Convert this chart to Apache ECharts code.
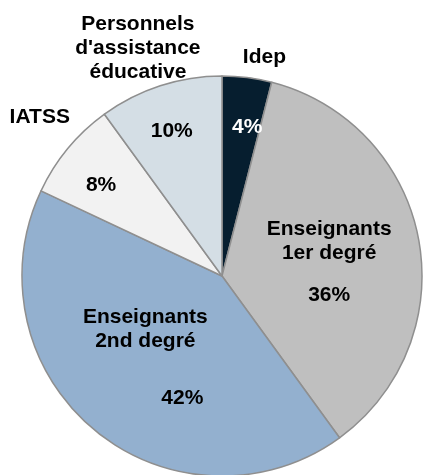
<!DOCTYPE html>
<html>
<head>
<meta charset="utf-8">
<script src="https://cdn.jsdelivr.net/npm/echarts@6/dist/echarts.min.js"></script>
<style>
  html, body { margin: 0; padding: 0; background: #fff; }
  #chart { width: 424px; height: 475px; }
</style>
</head>
<body>
<div id="chart"></div>
<script>
// données (part des effectifs, en %)
const categories = ['Idep', 'Enseignants\n1er degré', 'Enseignants\n2nd degré', 'IATSS', "Personnels\nd'assistance\néducative"];
const shares = [4, 36, 42, 8, 10];
const colors = ['#061e2f', '#bfbfbf', '#93b0cf', '#f2f2f2', '#d4dee5'];
const insideNames = [1, 2];      // slices labelled inside with their name
const percentColors = ['#fff', '#000', '#000', '#000', '#000'];

const FONT = 'Liberation Sans, Arial, sans-serif';
const CX = 222, CY = 276, R = 200;

// small label nudges [dx, dy]
const nameNudge = { 0: [12, 22], 3: [5, -4], 4: [-9, 3] };
const pctNudge = { 0: [6, 3], 4: [-3, 1], 3: [-3, 7] };
const bigNudge = { 1: [6, 15], 2: [-11, 19] };

const chart = echarts.init(document.getElementById('chart'), null, { renderer: 'canvas' });

const baseData = categories.map((c, i) => ({ name: c, value: shares[i] }));

function nudger(map) {
  return function (p) {
    const n = map[p.dataIndex];
    return n ? { dx: n[0], dy: n[1] } : {};
  };
}

const option = {
  animation: false,
  backgroundColor: '#fff',
  series: [
    {
      // the pie itself, with inside labels for the two big slices
      type: 'pie',
      center: [CX, CY],
      radius: [0, R],
      startAngle: 90,
      clockwise: true,
      avoidLabelOverlap: false,
      silent: true,
      itemStyle: { borderColor: '#8f8f8f', borderWidth: 1.5 },
      color: colors,
      labelLine: { show: false },
      label: {
        position: 'inside',
        fontFamily: FONT,
        formatter: function (p) {
          if (insideNames.indexOf(p.dataIndex) < 0) return '';
          const lines = p.name.split('\n').map(s => '{n|' + s + '}');
          const pk = p.dataIndex === 2 ? 'p2' : 'p1';
          return lines.join('\n') + '\n{' + pk + '|' + p.value + '%}';
        },
        rich: {
          n: { fontFamily: FONT, fontSize: 21, fontWeight: 'bold', color: '#000', lineHeight: 24 },
          p1: { fontFamily: FONT, fontSize: 21, fontWeight: 'bold', color: '#000', lineHeight: 60 },
          p2: { fontFamily: FONT, fontSize: 21, fontWeight: 'bold', color: '#000', lineHeight: 90, padding: [0, 0, 0, 74] }
        }
      },
      labelLayout: nudger(bigNudge),
      data: baseData
    },
    {
      // transparent ring: percentages of the small slices
      type: 'pie',
      center: [CX, CY],
      radius: [R / 2, R],
      startAngle: 90,
      clockwise: true,
      avoidLabelOverlap: false,
      silent: true,
      itemStyle: { color: 'transparent', borderWidth: 0 },
      labelLine: { show: false },
      label: {
        position: 'inside',
        fontFamily: FONT,
        fontSize: 21,
        fontWeight: 'bold',
        formatter: function (p) {
          return insideNames.indexOf(p.dataIndex) < 0 ? p.value + '%' : '';
        },
        color: '#000'
      },
      labelLayout: nudger(pctNudge),
      data: baseData.map((d, i) => ({ name: d.name, value: d.value, label: { color: percentColors[i] } }))
    },
    {
      // transparent outer ring: names of the small slices
      type: 'pie',
      center: [CX, CY],
      radius: [215, 265],
      startAngle: 90,
      clockwise: true,
      avoidLabelOverlap: false,
      silent: true,
      itemStyle: { color: 'transparent', borderWidth: 0 },
      labelLine: { show: false },
      label: {
        position: 'inside',
        fontFamily: FONT,
        fontSize: 21,
        fontWeight: 'bold',
        lineHeight: 24,
        color: '#000',
        formatter: function (p) {
          return insideNames.indexOf(p.dataIndex) < 0 ? p.name : '';
        }
      },
      labelLayout: nudger(nameNudge),
      data: baseData
    }
  ]
};

chart.setOption(option);
</script>
</body>
</html>
